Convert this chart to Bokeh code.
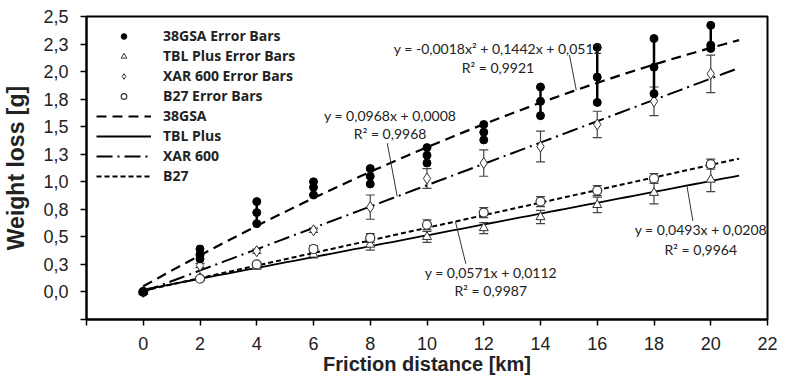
import numpy as np
from bokeh.plotting import figure
from bokeh.models import (ColumnDataSource, Whisker, TeeHead, Label, Legend, LegendItem,
                          FixedTicker, Range1d, CustomJSTickFormatter)
from bokeh.core.properties import value
from bokeh.embed import file_html
from bokeh.resources import INLINE

# ---------------- data ----------------
distance = [0, 2, 4, 6, 8, 10, 12, 14, 16, 18, 20]

gsa_rep1 = [0, 0.39, 0.82, 1.00, 1.12, 1.31, 1.52, 1.86, 2.22, 2.30, 2.42]
gsa_rep2 = [0, 0.34, 0.72, 0.95, 1.05, 1.24, 1.45, 1.73, 1.95, 2.04, 2.24]
gsa_rep3 = [0, 0.30, 0.62, 0.88, 0.98, 1.17, 1.38, 1.60, 1.72, 1.80, 2.21]

tbl_mean = [0, 0.13, 0.23, 0.34, 0.43, 0.50, 0.58, 0.68, 0.79, 0.90, 1.02]
tbl_err = [0, 0.01, 0.02, 0.03, 0.05, 0.05, 0.05, 0.06, 0.07, 0.10, 0.11]

xar_mean = [0, 0.24, 0.37, 0.56, 0.77, 1.03, 1.17, 1.32, 1.52, 1.73, 1.98]
xar_err = [0, 0.02, 0.02, 0.02, 0.11, 0.09, 0.12, 0.14, 0.12, 0.13, 0.17]

b27_mean = [0, 0.12, 0.25, 0.39, 0.49, 0.61, 0.72, 0.82, 0.92, 1.03, 1.16]
b27_err = [0, 0.01, 0.02, 0.03, 0.04, 0.045, 0.045, 0.045, 0.045, 0.045, 0.045]

# trend-line coefficients as printed on the chart (highest power first)
gsa_coef = [-0.0018, 0.1442, 0.0512]
tbl_coef = [0.0493, 0.0208]
xar_coef = [0.0968, 0.0008]
b27_coef = [0.0571, 0.0112]
fit_range = [0, 21]

gsa_eq = ["y = -0,0018x² + 0,1442x + 0,0512", "R² = 0,9921"]
xar_eq = ["y = 0,0968x + 0,0008", "R² = 0,9968"]
b27_eq = ["y = 0,0571x + 0,0112", "R² = 0,9987"]
tbl_eq = ["y = 0,0493x + 0,0208", "R² = 0,9964"]

x_ticks = [-2, 0, 2, 4, 6, 8, 10, 12, 14, 16, 18, 20, 22]
x_tick_labels = ["", "0", "2", "4", "6", "8", "10", "12", "14", "16", "18", "20", "22"]
y_ticks = [-0.25, 0, 0.25, 0.5, 0.75, 1.0, 1.25, 1.5, 1.75, 2.0, 2.25, 2.5]
y_tick_labels = ["", "0,0", "0,3", "0,5", "0,8", "1,0", "1,3", "1,5", "1,8", "2,0", "2,3", "2,5"]

x_title = "Friction distance [km]"
y_title = "Weight loss [g]"

# ---------------- figure ----------------
p = figure(width=779, height=377, x_range=Range1d(-2, 22), y_range=Range1d(-0.25, 2.5),
           output_backend="svg", toolbar_location=None,
           min_border_left=78, min_border_top=16, min_border_right=12, min_border_bottom=40)
p.grid.visible = False
p.outline_line_color = "black"
p.outline_line_width = 2
p.background_fill_color = "white"

fmt_code = """
const i = tv.findIndex(t => Math.abs(t - tick) < 1e-9);
return i >= 0 ? tl[i] : '';
"""
p.xaxis.ticker = FixedTicker(ticks=x_ticks)
p.xaxis.formatter = CustomJSTickFormatter(args=dict(tv=x_ticks, tl=x_tick_labels), code=fmt_code)
p.yaxis.ticker = FixedTicker(ticks=y_ticks)
p.yaxis.formatter = CustomJSTickFormatter(args=dict(tv=y_ticks, tl=y_tick_labels), code=fmt_code)

for ax in (p.xaxis, p.yaxis):
    ax.axis_line_width = 2
    ax.axis_line_color = "black"
    ax.major_tick_line_width = 1.5
    ax.major_tick_out = 6
    ax.major_tick_in = 0
    ax.minor_tick_line_color = None
    ax.major_label_text_font = "Liberation Sans"
    ax.major_label_text_font_size = "18px"
    ax.major_label_text_color = "#222222"
    ax.axis_label_text_font = "Liberation Sans"
    ax.axis_label_text_font_style = "bold"
    ax.axis_label_text_color = "#222222"

p.xaxis.axis_label = x_title
p.xaxis.axis_label_text_font_size = "20px"
p.xaxis.major_label_standoff = 11
p.xaxis.axis_label_standoff = 0
p.yaxis.axis_label = y_title
p.yaxis.axis_label_text_font_size = "23px"
p.yaxis.major_label_standoff = 12
p.yaxis.axis_label_standoff = 11

# ---------------- trend lines ----------------
xf = np.linspace(fit_range[0], fit_range[1], 80)
l_gsa = p.line(xf, np.polyval(gsa_coef, xf), line_color="black", line_width=2.2, line_dash="10 6")
l_tbl = p.line(xf, np.polyval(tbl_coef, xf), line_color="black", line_width=1.8)
l_xar = p.line(xf, np.polyval(xar_coef, xf), line_color="black", line_width=2.0, line_dash="16 5 2 5")
l_b27 = p.line(xf, np.polyval(b27_coef, xf), line_color="black", line_width=2.0, line_dash="5 3")

# ---------------- error bars ----------------
def add_whisker(mean, err):
    src = ColumnDataSource(dict(x=distance,
                                upper=[m + e for m, e in zip(mean, err)],
                                lower=[m - e for m, e in zip(mean, err)]))
    w = Whisker(base="x", upper="upper", lower="lower", source=src, dimension="height",
                line_color="#444444", line_width=1.2,
                upper_head=TeeHead(size=9, line_color="#444444", line_width=1.2),
                lower_head=TeeHead(size=9, line_color="#444444", line_width=1.2))
    p.add_layout(w)

add_whisker(tbl_mean, tbl_err)
add_whisker(b27_mean, b27_err)
add_whisker(xar_mean, xar_err)

# 38GSA replicate range
gsa_hi = [max(a, b, c) for a, b, c in zip(gsa_rep1, gsa_rep2, gsa_rep3)]
gsa_lo = [min(a, b, c) for a, b, c in zip(gsa_rep1, gsa_rep2, gsa_rep3)]
p.segment(x0=distance, y0=gsa_lo, x1=distance, y1=gsa_hi, line_color="black", line_width=2.5)

# ---------------- markers ----------------
s_tbl = p.scatter(distance, tbl_mean, marker="triangle", size=9, fill_color="white",
                  line_color="#333333", line_width=1)
s_xar = p.scatter(distance, xar_mean, marker="diamond", size=11, fill_color="white",
                  line_color="#333333", line_width=1)
s_b27 = p.scatter(distance, b27_mean, marker="circle", size=9, fill_color="white",
                  line_color="#333333", line_width=1.2)
gx = distance * 3
gy = gsa_rep1 + gsa_rep2 + gsa_rep3
s_gsa = p.scatter(gx, gy, marker="circle", size=8, fill_color="black", line_color="black")

# ---------------- annotations ----------------
ann_font = "Lato"
def add_eq(lines, cx, cy, dy):
    for i, t in enumerate(lines):
        p.add_layout(Label(x=cx, y=cy - i * dy, text=t, text_align="center", text_baseline="middle",
                           text_font=ann_font, text_font_size="14px", text_color="#222222"))

add_eq(gsa_eq, 12.5, 2.21, 0.17)
add_eq(xar_eq, 8.70, 1.60, 0.165)
add_eq(b27_eq, 12.25, 0.175, 0.165)
add_eq(tbl_eq, 19.65, 0.565, 0.18)

def leader(x_start, y_start, x_end, coef):
    p.segment(x0=[x_start], y0=[y_start], x1=[x_end], y1=[float(np.polyval(coef, x_end))],
              line_color="#333333", line_width=1)

leader(15.02, 2.15, 15.26, gsa_coef)
leader(8.60, 1.35, 8.95, xar_coef)
leader(11.37, 0.255, 11.0, b27_coef)
leader(19.37, 0.645, 19.16, tbl_coef)

# ---------------- legend ----------------
legend = Legend(items=[
    LegendItem(label="38GSA Error Bars", renderers=[s_gsa]),
    LegendItem(label="TBL Plus Error Bars", renderers=[s_tbl]),
    LegendItem(label="XAR 600 Error Bars", renderers=[s_xar]),
    LegendItem(label="B27 Error Bars", renderers=[s_b27]),
    LegendItem(label="38GSA", renderers=[l_gsa]),
    LegendItem(label="TBL Plus", renderers=[l_tbl]),
    LegendItem(label="XAR 600", renderers=[l_xar]),
    LegendItem(label="B27", renderers=[l_b27]),
], location="top_left")
legend.label_text_font = "Open Sans"
legend.label_text_font_style = "bold"
legend.label_text_font_size = "14px"
legend.label_text_color = "#222222"
legend.glyph_width = 55
legend.glyph_height = 14
legend.label_height = 14
legend.spacing = 1
legend.padding = 10
legend.margin = 0
legend.label_standoff = 12
legend.background_fill_alpha = 0
legend.border_line_alpha = 0
p.add_layout(legend)

open("out.html", "w").write(file_html(p, INLINE))
